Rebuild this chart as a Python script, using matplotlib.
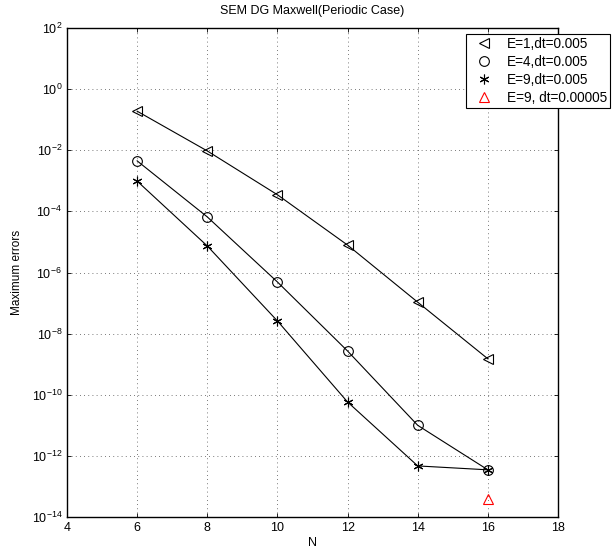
import numpy as np
import matplotlib
matplotlib.use("Agg")
import matplotlib.pyplot as plt
from matplotlib.lines import Line2D

plt.rcParams['font.family'] = ['Liberation Sans', 'DejaVu Sans']
plt.rcParams['mathtext.fontset'] = 'custom'
plt.rcParams['mathtext.rm'] = 'Liberation Sans'
plt.rcParams['mathtext.it'] = 'Liberation Sans:italic'

# data
N = [6, 8, 10, 12, 14, 16]
err_e1 = [1.9e-1, 9.5e-3, 3.5e-4, 7.9e-6, 1.07e-7, 1.5e-9]
err_e4 = [4.5e-3, 6.6e-5, 4.9e-7, 2.7e-9, 1.0e-11, 3.5e-13]
err_e9 = [9.8e-4, 7.4e-6, 2.6e-8, 5.8e-11, 4.7e-13, 3.5e-13]
N_small_dt = [16]
err_small_dt = [3.9e-14]

labels = ["E=1,dt=0.005", "E=4,dt=0.005", "E=9,dt=0.005", "E=9, dt=0.00005"]
xticks = [4, 6, 8, 10, 12, 14, 16, 18]
yticks = [10.0 ** k for k in range(-14, 3, 2)]

ASTERISK = (6, 2, 0)

fig = plt.figure(figsize=(6.13, 5.56), dpi=100)
ax = fig.add_axes([0.1093, 0.0701, 0.801, 0.8795])

ax.semilogy(N, err_e1, color='k', lw=0.8, marker='<', ms=7, mfc='none', mew=0.8)
ax.semilogy(N, err_e4, color='k', lw=0.8, marker='o', ms=7, mfc='none', mew=0.8)
ax.semilogy(N, err_e9, color='k', lw=0.8, marker=ASTERISK, ms=7, mew=0.8)
ax.semilogy(N_small_dt, err_small_dt, ls='none', marker='^', ms=7, mfc='none', mec='red', mew=0.8)

ax.set_xlim(4, 18)
ax.set_ylim(1e-14, 1e2)
ax.set_xticks(xticks)
ax.set_yticks(yticks)
ax.minorticks_off()
ax.tick_params(direction='in', top=True, right=True, labelsize=9, length=3, width=0.6)
ax.grid(True, color='0.3', ls=(0, (1, 4)), lw=0.6)
for s in ax.spines.values():
    s.set_linewidth(1.0)

ax.set_xlabel("N", fontsize=9, labelpad=2)
ax.set_ylabel("Maximum errors", fontsize=8.5, labelpad=6)
ax.set_title("SEM DG Maxwell(Periodic Case)", fontsize=9, pad=10)

# legend shows markers only, as in the original
handles = [
    Line2D([], [], ls='none', color='k', marker='<', ms=7, mfc='none', mew=0.8),
    Line2D([], [], ls='none', color='k', marker='o', ms=7, mfc='none', mew=0.8),
    Line2D([], [], ls='none', color='k', marker=ASTERISK, ms=7, mew=0.8),
    Line2D([], [], ls='none', marker='^', ms=7, mfc='none', mec='red', mew=0.8),
]
leg = fig.legend(handles, labels, loc='upper left', bbox_to_anchor=(466 / 613, 1 - 34 / 556),
                 fontsize=9.8, frameon=True, fancybox=False, edgecolor='k', framealpha=1,
                 borderpad=0.2, labelspacing=0.3, handlelength=2.2, handletextpad=0.6,
                 borderaxespad=0)
leg.get_frame().set_linewidth(0.8)

fig.savefig("out.png", dpi=100)
